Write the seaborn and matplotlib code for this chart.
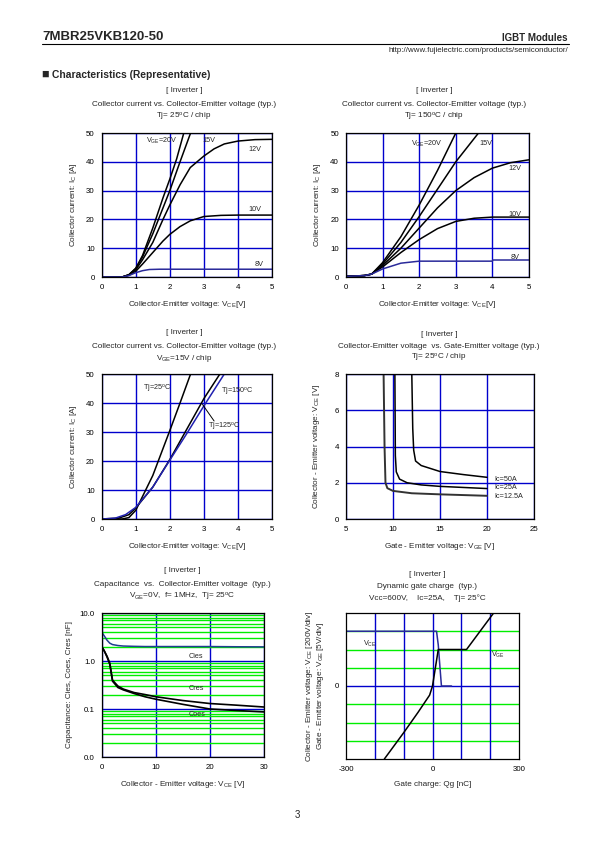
import numpy as np
import pandas as pd
import matplotlib
matplotlib.use("Agg")
import matplotlib.pyplot as plt
import seaborn as sns
from matplotlib.ticker import MultipleLocator, FixedLocator, NullFormatter, FixedFormatter

# Ic vs Vce, Tj=25C
vce_25_20 = [0, 0.6, 0.8, 1.0, 1.2, 1.5, 1.8, 2.0, 2.2, 2.41]
ic_25_20 = [0, 0, 0.8, 3, 7.5, 17, 27.5, 34, 41, 50]
vce_25_15 = [0, 0.6, 0.8, 1.0, 1.2, 1.5, 1.8, 2.0, 2.3, 2.61]
ic_25_15 = [0, 0, 0.8, 3, 7, 15, 24, 30, 40, 50]
vce_25_12 = [0, 0.6, 0.8, 1.0, 1.2, 1.5, 1.8, 2.0, 2.3, 2.6, 3.0, 3.3, 3.6, 4.0, 4.5, 5.0]
ic_25_12 = [0, 0, 0.7, 2.5, 6, 12, 20, 25, 32, 38, 42, 44.5, 46.2, 47.2, 47.7, 47.8]
vce_25_10 = [0, 0.6, 0.8, 1.0, 1.2, 1.5, 1.8, 2.0, 2.3, 2.6, 3.0, 3.5, 4.0, 5.0]
ic_25_10 = [0, 0, 0.6, 2, 4.5, 8.5, 12.5, 14.8, 17.5, 19.5, 21, 21.4, 21.5, 21.5]
vce_25_8 = [0, 0.6, 0.8, 1.0, 1.2, 1.4, 1.7, 2.0, 5.0]
ic_25_8 = [0, 0, 0.5, 1.5, 2.2, 2.6, 2.7, 2.7, 2.7]

# Ic vs Vce, Tj=150C
vce_150_20 = [0, 0.5, 0.7, 1.0, 1.5, 2.0, 2.5, 3.0]
ic_150_20 = [0.2, 0.5, 1, 5, 14, 25, 37, 50]
vce_150_15 = [0, 0.5, 0.7, 1.0, 1.5, 2.0, 2.5, 3.0, 3.62]
ic_150_15 = [0.2, 0.5, 1, 4.5, 12, 21, 30.5, 40, 50]
vce_150_12 = [0, 0.5, 0.7, 1.0, 1.5, 2.0, 2.5, 3.0, 3.5, 4.0, 4.5, 5.0]
ic_150_12 = [0.2, 0.5, 1, 4, 10, 17, 24, 30, 34.5, 37.8, 39.7, 40.7]
vce_150_10 = [0, 0.5, 0.7, 1.0, 1.5, 2.0, 2.5, 3.0, 3.5, 4.0, 5.0]
ic_150_10 = [0.2, 0.5, 1, 3.5, 8.5, 13, 16.8, 19.3, 20.4, 20.8, 20.8]
vce_150_8 = [0, 0.5, 0.7, 1.0, 1.5, 2.0, 4.0, 4.01, 5.0]
ic_150_8 = [0.2, 0.5, 1, 2.8, 4.8, 5.5, 5.5, 5.9, 5.9]

# Ic vs Vce, Vge=15V
vce_t25 = [0, 0.6, 0.8, 1.0, 1.5, 2.0, 2.3, 2.61]
ic_t25 = [0, 0, 0.5, 3, 15, 30.5, 40, 50]
vce_t150 = [0, 0.5, 0.8, 1.0, 1.5, 2.0, 2.5, 3.0, 3.47]
ic_t150 = [0, 0.3, 1.5, 3.8, 11, 20.5, 31, 41.5, 50]
vce_t125 = [0, 0.4, 0.7, 1.0, 1.5, 2.0, 2.5, 3.0, 3.6]
ic_t125 = [0, 0.3, 1.5, 4, 11, 20.3, 29.5, 39, 50]

# Vce vs Vge, Tj=25C
vge_50 = [12.0, 12.1, 12.2, 12.4, 13.0, 15.0, 17.5, 20.0]
vce_50 = [8, 5, 3.8, 3.2, 2.95, 2.62, 2.45, 2.3]
vge_25 = [10.2, 10.25, 10.35, 10.7, 11.5, 13.0, 15.0, 20.0]
vce_25 = [8, 3.5, 2.6, 2.2, 2.0, 1.88, 1.8, 1.68]
vge_12 = [9.0, 9.1, 9.2, 9.4, 10.0, 12.0, 15.0, 20.0]
vce_12 = [8, 4, 2.0, 1.7, 1.55, 1.42, 1.36, 1.28]

# Capacitance vs Vce
vce_cap = [0, 0.5, 1.0, 1.5, 2.0, 3.0, 4.0, 6.0, 8.0, 10, 15, 20, 25, 30]
cies = [4.0, 3.3, 2.7, 2.35, 2.2, 2.1, 2.05, 2.02, 2.0, 2.0, 2.0, 2.0, 1.98, 1.97]
cres = [2.0, 1.6, 1.25, 0.9, 0.4, 0.3, 0.26, 0.22, 0.2, 0.18, 0.15, 0.13, 0.12, 0.11]
coes = [2.0, 1.6, 1.2, 0.85, 0.38, 0.28, 0.25, 0.21, 0.18, 0.16, 0.125, 0.1, 0.093, 0.087]

# Dynamic gate charge
qg_vge = [-167, -100, -50, -10, 0, 20, 118, 212]
vge_dyn = [-20, -12.8, -7.2, -2.5, 0, 10, 10, 20]
qg_vce = [-300, 14, 20, 26, 31, 66]
vce_dyn = [600, 600, 450, 200, 0, 0]

BLUE = "#0000cc"
GREEN = "#00ee00"
W, H = 595, 842
LBL = 5.9    # axis label size
INS = 5.2    # in-plot label size

sns.set_theme(style="white")
plt.rcParams['font.family'] = ['Liberation Sans', 'DejaVu Sans']
plt.rcParams['mathtext.fontset'] = 'custom'
plt.rcParams['mathtext.rm'] = 'Liberation Sans'
plt.rcParams['mathtext.it'] = 'Liberation Sans'
plt.rcParams['mathtext.bf'] = 'Liberation Sans:bold'
plt.rcParams['axes.unicode_minus'] = False

fig = plt.figure(figsize=(W / 100, H / 100), dpi=100)
fig.patch.set_facecolor("white")


def box(l, t, r, b):
    ax = fig.add_axes([l / W, 1 - b / H, (r - l) / W, (b - t) / H])
    ax.set_facecolor("white")
    for s in ax.spines.values():
        s.set_color("black")
        s.set_linewidth(0.9)
    ax.tick_params(direction="in", labelsize=5.7, length=3, width=0.6, colors="black", pad=5)
    ax.tick_params(which="minor", direction="in", length=2, width=0.5)
    ax.set_axisbelow(True)
    return ax


def ftext(x, y, s, size=5.9, **kw):
    kw.setdefault("ha", "center")
    fig.text(x / W, 1 - y / H, s, fontsize=size, va="center", **kw)


def line(ax, x, y, color="black", lw=1.1):
    sns.lineplot(x=x, y=y, ax=ax, color=color, lw=lw, estimator=None, sort=False)


def titles(cx, y0, l2, l3, step=13):
    ftext(cx, y0, "[ Inverter ]")
    ftext(cx, y0 + step, l2)
    ftext(cx, y0 + 2 * step, l3)


def ic_axes(ax):
    ax.set_xlim(0, 5)
    ax.set_ylim(0, 50)
    ax.xaxis.set_major_locator(MultipleLocator(1))
    ax.yaxis.set_major_locator(MultipleLocator(10))
    ax.xaxis.set_minor_locator(MultipleLocator(0.2))
    ax.yaxis.set_minor_locator(MultipleLocator(2))
    ax.grid(True, which="major", color=BLUE, lw=1.0)
    ax.set_xlabel("Collector-Emitter voltage: V$_{\\mathrm{CE}}$[V]", fontsize=LBL, labelpad=6)
    ax.set_ylabel("Collector current: I$_{\\mathrm{C}}$ [A]", fontsize=LBL, labelpad=5)


# ---- header ----
ftext(42, 37, "7MBR25VKB120-50", size=9.5, ha="left", fontweight="bold")
fig.add_artist(plt.Line2D([42 / W, 569 / W], [1 - 43.5 / H, 1 - 43.5 / H], color="black", lw=0.8))
ftext(568, 38, "IGBT Modules", size=7, ha="right", fontweight="bold")
ftext(568, 50, "http://www.fujielectric.com/products/semiconductor/", size=5.7, ha="right")
ftext(41, 75, "\u25a0", size=9, ha="left")
ftext(52, 75, "Characteristics (Representative)", size=7.4, ha="left", fontweight="bold")
ftext(297, 815, "3", size=7)

# ---- plot 1: Tj=25C ----
ax1 = box(101.7, 133, 272, 277)
ic_axes(ax1)
line(ax1, vce_25_20, ic_25_20)
line(ax1, vce_25_15, ic_25_15)
line(ax1, vce_25_12, ic_25_12)
line(ax1, vce_25_10, ic_25_10)
line(ax1, vce_25_8, ic_25_8, color="#2a2a9a")
for x, y, s in [(1.3, 47.3, "V$_{\\mathrm{GE}}$=20V"), (2.95, 47.3, "15V"), (4.3, 44.3, "12V"),
                (4.3, 23.3, "10V"), (4.5, 4.5, "8V")]:
    ax1.text(x, y, s, fontsize=INS, va="center")
titles(184, 91, "Collector current vs. Collector-Emitter voltage (typ.)", "Tj= 25$^{\\mathrm{o}}$C / chip")

# ---- plot 2: Tj=150C ----
ax2 = box(346, 133, 529, 277)
ic_axes(ax2)
line(ax2, vce_150_20, ic_150_20)
line(ax2, vce_150_15, ic_150_15)
line(ax2, vce_150_12, ic_150_12)
line(ax2, vce_150_10, ic_150_10)
line(ax2, vce_150_8, ic_150_8, color="#2a2a9a")
for x, y, s in [(1.78, 46.3, "V$_{\\mathrm{GE}}$=20V"), (3.65, 46.3, "15V"), (4.45, 37.5, "12V"),
                (4.45, 21.8, "10V"), (4.5, 6.6, "8V")]:
    ax2.text(x, y, s, fontsize=INS, va="center")
titles(434, 91, "Collector current vs. Collector-Emitter voltage (typ.)", "Tj= 150$^{\\mathrm{o}}$C / chip")

# ---- plot 3: Vge=15V ----
ax3 = box(101.7, 374, 272, 519)
ic_axes(ax3)
line(ax3, vce_t25, ic_t25)
line(ax3, vce_t150, ic_t150)
line(ax3, vce_t125, ic_t125, color="#2020b0")
ax3.text(1.22, 45, "Tj=25$^{\\mathrm{o}}$C", fontsize=INS, va="center")
ax3.text(3.5, 43.9, "Tj=150$^{\\mathrm{o}}$C", fontsize=INS, va="center")
ax3.text(3.12, 31.8, "Tj=125$^{\\mathrm{o}}$C", fontsize=INS, va="center")
ax3.plot([3.3, 2.96], [33.8, 39.5], color="black", lw=0.7)
titles(184, 333, "Collector current vs. Collector-Emitter voltage (typ.)", "V$_{\\mathrm{GE}}$=15V / chip")

# ---- plot 4: Vce vs Vge ----
ax4 = box(346, 374, 534, 519)
ax4.set_xlim(5, 25)
ax4.set_ylim(0, 8)
ax4.xaxis.set_major_locator(MultipleLocator(5))
ax4.yaxis.set_major_locator(MultipleLocator(2))
ax4.xaxis.set_minor_locator(MultipleLocator(1))
ax4.yaxis.set_minor_locator(MultipleLocator(0.4))
ax4.grid(True, which="major", color=BLUE, lw=1.0)
line(ax4, vge_50, vce_50)
line(ax4, vge_25, vce_25)
line(ax4, vge_12, vce_12, color="#333333", lw=1.4)
ax4.text(20.8, 2.2, "Ic=50A", fontsize=INS, va="center")
ax4.text(20.8, 1.72, "Ic=25A", fontsize=INS, va="center")
ax4.text(20.8, 1.23, "Ic=12.5A", fontsize=INS, va="center")
ax4.set_xlabel("Gate - Emitter voltage: V$_{\\mathrm{GE}}$ [V]", fontsize=LBL, labelpad=6)
ax4.set_ylabel("Collector - Emitter voltage: V$_{\\mathrm{CE}}$ [V]", fontsize=LBL, labelpad=9)
titles(439, 334, "Collector-Emitter voltage  vs. Gate-Emitter voltage (typ.)", "Tj= 25$^{\\mathrm{o}}$C / chip", step=12)

# ---- plot 5: capacitance ----
ax5 = box(101.7, 613, 264, 757)
ax5.set_yscale("log")
ax5.set_xlim(0, 30)
ax5.set_ylim(0.01, 10)
ax5.xaxis.set_major_locator(MultipleLocator(10))
ax5.yaxis.set_major_locator(FixedLocator([0.01, 0.1, 1, 10]))
ax5.yaxis.set_major_formatter(FixedFormatter(["0.0", "0.1", "1.0", "10.0"]))
ax5.yaxis.set_minor_locator(FixedLocator([m * d for d in (0.01, 0.1, 1) for m in range(2, 10)]))
ax5.yaxis.set_minor_formatter(NullFormatter())
ax5.grid(True, which="minor", axis="y", color=GREEN, lw=1.0)
ax5.grid(True, which="major", color=BLUE, lw=1.0)
ax5.tick_params(which="both", length=0)
line(ax5, vce_cap, cies, color="#1f3f8f")
line(ax5, vce_cap, cres, lw=1.2)
line(ax5, vce_cap, coes, lw=1.2)
ax5.text(16, 1.25, "Cies", fontsize=INS, va="center")
ax5.text(16, 0.27, "Cres", fontsize=INS, va="center")
ax5.text(16, 0.078, "Coes", fontsize=INS, va="center")
ax5.set_xlabel("Collector - Emitter voltage: V$_{\\mathrm{CE}}$ [V]", fontsize=LBL, labelpad=6)
ax5.set_ylabel("Capacitance: Cies, Coes, Cres [nF]", fontsize=LBL, labelpad=5)
titles(182, 571, "Capacitance  vs.  Collector-Emitter voltage  (typ.)",
       "V$_{\\mathrm{GE}}$=0V,  f= 1MHz,  Tj= 25$^{\\mathrm{o}}$C")

# ---- plot 6: dynamic gate charge ----
ax6 = box(346, 613, 519, 759)
ax6.set_xlim(-300, 300)
ax6.set_ylim(-4, 4)
ax6.set_xticks([-300, 0, 300])
ax6.set_yticks([0])
ax6.tick_params(which="both", length=0)
for lv in [-3, -2, -1, 1, 2, 3]:
    ax6.axhline(lv, color=GREEN, lw=1.0, zorder=0.5)
ax6.axhline(0, color=BLUE, lw=1.0, zorder=0.6)
for q in [-200, -100, 0, 100, 200]:
    ax6.axvline(q, color=BLUE, lw=1.0, zorder=0.6)
line(ax6, qg_vce, np.array(vce_dyn) / 200.0, color="#2a2a9a", lw=1.1)
line(ax6, qg_vge, np.array(vge_dyn) / 5.0, lw=1.1)
ax6.text(-240, 2.3, "V$_{\\mathrm{CE}}$", fontsize=INS, va="center")
ax6.text(204, 1.7, "V$_{\\mathrm{GE}}$", fontsize=INS, va="center")
ax6.set_xlabel("Gate charge: Qg [nC]", fontsize=LBL, labelpad=6)
ax6.set_ylabel("Collector - Emitter voltage: V$_{\\mathrm{CE}}$ [200V/div]\n"
               "Gate - Emitter voltage: V$_{\\mathrm{GE}}$ [5V/div]", fontsize=LBL, labelpad=6,
               linespacing=1.05)
titles(427, 574, "Dynamic gate charge  (typ.)", "Vcc=600V,    Ic=25A,    Tj= 25\u00b0C", step=12)

fig.savefig("out.png", dpi=100, facecolor="white")
